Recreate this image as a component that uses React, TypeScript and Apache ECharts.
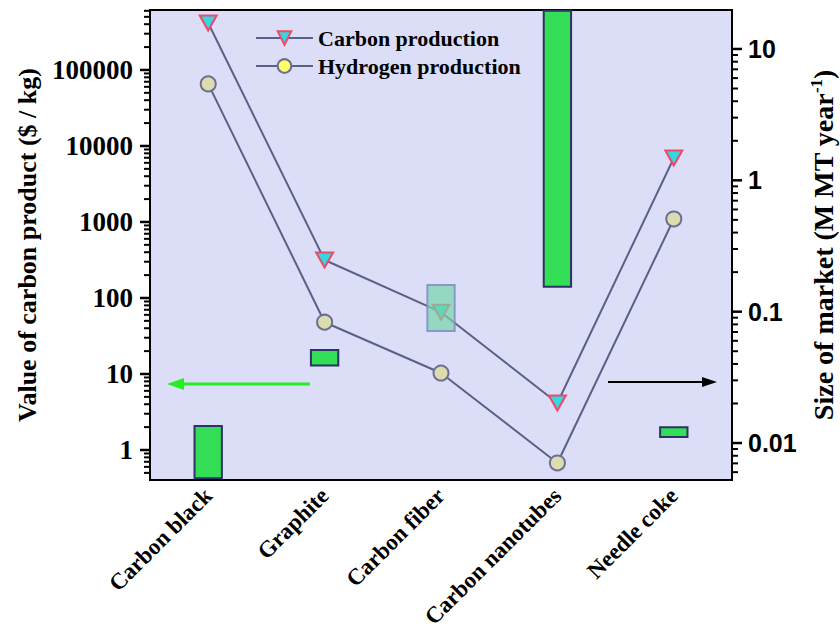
import React, { useEffect, useRef } from 'react';
import * as echarts from 'echarts';

// ---- data ----
const categories = ['Carbon black', 'Graphite', 'Carbon fiber', 'Carbon nanotubes', 'Needle coke'];
// Value of carbon product ($ / kg), left log axis
const carbonProduction = [415000, 316, 65, 4.15, 6950];
const hydrogenProduction = [65500, 48, 10.3, 0.675, 1095];
// Size of market (M MT / year), right log axis, floating ranges
const marketLow = [0.0054, 0.039, 0.0713, 0.155, 0.0111];
const marketHigh = [0.01345, 0.0511, 0.1595, 19.5, 0.0132];
const marketKind = ['bar', 'bar', 'range', 'bar', 'bar'];

const leftTickValues = [1, 10, 100, 1000, 10000, 100000];
const leftTickLabels = ['1', '10', '100', '1000', '10000', '100000'];
const rightTickValues = [0.01, 0.1, 1, 10];
const rightTickLabels = ['0.01', '0.1', '1', '10'];
const minorMantissas = [2, 3, 4, 5, 6, 7, 8, 9];
const leftDecades = [0.1, 1, 10, 100, 1000, 10000, 100000];
const rightDecades = [0.001, 0.01, 0.1, 1];

const LEFT_MIN = 0.403;
const LEFT_MAX = 615000;
const RIGHT_MIN = 0.00523;
const RIGHT_MAX = 19.8;

const GRID = { left: 150, right: 108, top: 10, bottom: 152 };
const W = 840;
const H = 632;

const lg = (v: number) => Math.log10(v);

function minorTicks(decades: number[], lo: number, hi: number) {
  const out: number[] = [];
  decades.forEach((d) => minorMantissas.forEach((m) => {
    const v = d * m;
    if (v > lo && v < hi) out.push(v);
  }));
  return out;
}

const serif = 'Liberation Serif';
const sans = 'Liberation Sans';

function labelLookup(values: number[], labels: string[]) {
  return (v: number) => {
    const i = values.findIndex((t) => Math.abs(lg(t) - v) < 1e-6);
    return i >= 0 ? labels[i] : '';
  };
}

function barRender(style: any) {
  return (params: any, api: any) => {
    const idx = api.value(0);
    const lo = api.coord([idx, api.value(1)]);
    const hi = api.coord([idx, api.value(2)]);
    const bw = api.size([1, 0], [idx, 0])[0] * 0.235;
    return {
      type: 'rect',
      shape: { x: lo[0] - bw / 2, y: hi[1], width: bw, height: lo[1] - hi[1] },
      style,
    };
  };
}

// tick marks drawn as thin rects (custom series), placed with the axis scale
function tickRender(side: string, len: number, width: number) {
  return (params: any, api: any) => {
    const y = api.coord([0, api.value(1)])[1];
    const cs = params.coordSys;
    const x0 = side === 'left' ? cs.x - len : cs.x + cs.width;
    return {
      type: 'rect',
      shape: { x: x0, y: y - width / 2, width: len, height: width },
      style: { fill: '#000000' },
    };
  };
}

function tickSeries(values: number[], yAxisIndex: number, side: string, len: number, width: number) {
  return {
    type: 'custom', xAxisIndex: 0, yAxisIndex, z: 6, clip: false, silent: true,
    encode: { x: 0, y: 1 },
    data: values.map((v) => [0, lg(v)]),
    renderItem: tickRender(side, len, width),
  };
}

export default function App() {
  const ref = useRef<HTMLDivElement>(null);
  useEffect(() => {
    document.body.style.margin = '0';
    const chart = echarts.init(ref.current!, undefined, { renderer: 'svg' });
    const barData: any[] = [];
    const rangeData: any[] = [];
    categories.forEach((_, i) => {
      const item = [i, lg(marketLow[i]), lg(marketHigh[i])];
      if (marketKind[i] === 'bar') barData.push(item);
      else rangeData.push(item);
    });
    const option: any = {
      animation: false,
      backgroundColor: '#ffffff',
      grid: {
        ...GRID,
        containLabel: false, outerBoundsMode: 'none',
        show: true, backgroundColor: '#dcdef8', borderColor: '#000', borderWidth: 2,
      },
      legend: {
        left: 250, top: 22, orient: 'vertical', itemWidth: 57, itemHeight: 17, itemGap: 6,
        textStyle: { fontFamily: serif, fontWeight: 'bold', fontSize: 22, color: '#000' },
        data: [
          { name: 'Carbon production' },
          { name: 'Hydrogen production', itemStyle: { color: '#ffff66' } },
        ],
      },
      xAxis: {
        type: 'category', data: categories, boundaryGap: true,
        axisLine: { onZero: false, lineStyle: { color: '#000', width: 2 } },
        axisTick: { show: false },
        axisLabel: {
          rotate: 45, interval: 0, margin: 12,
          fontFamily: serif, fontWeight: 'bold', fontSize: 23, color: '#000',
        },
        splitLine: { show: false },
      },
      yAxis: [
        {
          type: 'value', position: 'left', min: lg(LEFT_MIN), max: lg(LEFT_MAX),
          name: 'Value of carbon product ($ / kg)', nameLocation: 'middle', nameGap: 110,
          nameTextStyle: { fontFamily: serif, fontWeight: 'bold', fontSize: 26, color: '#000' },
          axisLine: { show: true, lineStyle: { color: '#000', width: 2 } },
          axisTick: { show: false },
          axisLabel: {
            customValues: leftTickValues.map(lg), formatter: labelLookup(leftTickValues, leftTickLabels),
            margin: 17, fontFamily: serif, fontWeight: 'bold', fontSize: 27, color: '#000',
          },
          splitLine: { show: false },
        },
        {
          type: 'value', position: 'right', min: lg(RIGHT_MIN), max: lg(RIGHT_MAX),
          name: 'Size of market (M MT year{sup|-1})', nameLocation: 'middle', nameGap: 72,
          nameTextStyle: {
            fontFamily: serif, fontWeight: 'bold', fontSize: 28, color: '#000', lineHeight: 32,
            rich: { sup: { fontFamily: serif, fontWeight: 'bold', fontSize: 17, color: '#000', verticalAlign: 'top', lineHeight: 17 } },
          },
          axisLine: { show: true, lineStyle: { color: '#000', width: 2 } },
          axisTick: { show: false },
          axisLabel: {
            customValues: rightTickValues.map(lg), formatter: labelLookup(rightTickValues, rightTickLabels),
            margin: 16, fontFamily: sans, fontWeight: 'bold', fontSize: 25, color: '#000',
          },
          splitLine: { show: false },
        },
      ],
      series: [
        {
          name: 'market', type: 'custom', xAxisIndex: 0, yAxisIndex: 1, z: 2,
          encode: { x: 0, y: [1, 2] }, data: barData,
          renderItem: barRender({ fill: '#33dd55', stroke: '#2b3366', lineWidth: 2 }),
        },
        {
          name: 'Carbon production', type: 'line', yAxisIndex: 0, z: 3,
          data: carbonProduction.map(lg),
          symbol: 'triangle', symbolRotate: 180, symbolSize: [17, 15],
          lineStyle: { color: '#5b6088', width: 2 },
          itemStyle: { color: '#33d8e0', borderColor: '#f04a6a', borderWidth: 2 },
        },
        {
          name: 'Hydrogen production', type: 'line', yAxisIndex: 0, z: 3,
          data: hydrogenProduction.map(lg),
          symbol: 'circle', symbolSize: 15,
          lineStyle: { color: '#5b6088', width: 2 },
          itemStyle: { color: '#dcdcae', borderColor: '#6b6f93', borderWidth: 2 },
        },
        {
          name: 'market range', type: 'custom', xAxisIndex: 0, yAxisIndex: 1, z: 4,
          encode: { x: 0, y: [1, 2] }, data: rangeData,
          renderItem: barRender({ fill: 'rgba(120,212,170,0.7)', stroke: 'rgba(128,140,200,0.85)', lineWidth: 2 }),
        },
        tickSeries(leftTickValues, 0, 'left', 10, 2.5),
        tickSeries(minorTicks(leftDecades, LEFT_MIN, LEFT_MAX), 0, 'left', 6, 2),
        tickSeries(rightTickValues, 1, 'right', 10, 2.5),
        tickSeries(minorTicks(rightDecades, RIGHT_MIN, RIGHT_MAX), 1, 'right', 6, 2),
      ],
      graphic: [
        { type: 'line', shape: { x1: 180, y1: 384, x2: 310, y2: 384 }, style: { stroke: '#22ee22', lineWidth: 3 } },
        { type: 'polygon', shape: { points: [[167, 384], [184, 378], [184, 390]] }, style: { fill: '#22ee22' } },
        { type: 'line', shape: { x1: 608, y1: 382, x2: 705, y2: 382 }, style: { stroke: '#000', lineWidth: 2 } },
        { type: 'polygon', shape: { points: [[717, 382], [702, 377], [702, 387]] }, style: { fill: '#000' } },
      ],
    };
    chart.setOption(option);
    return () => chart.dispose();
  }, []);
  return <div ref={ref} style={{ width: W, height: H }} />;
}
